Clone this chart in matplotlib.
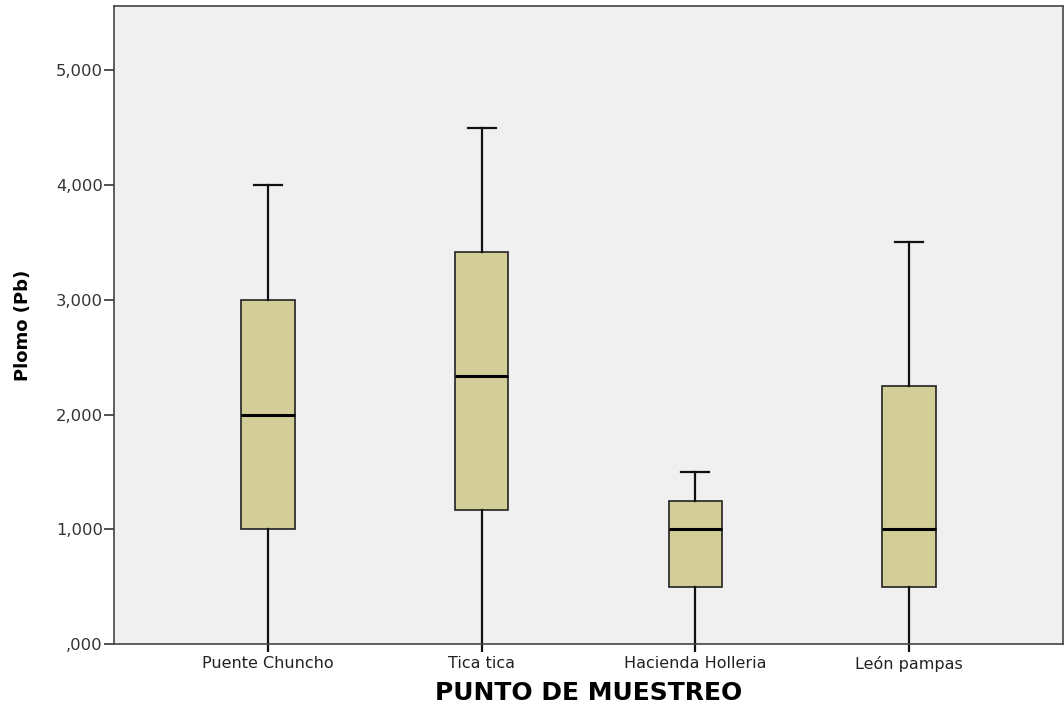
import matplotlib
matplotlib.use("Agg")
import matplotlib.pyplot as plt

plt.rcParams["font.family"] = ["DejaVu Sans"]

# ── data ─────────────────────────────────────────────────────────────
sites = ["Puente Chuncho", "Tica tica", "Hacienda Holleria", "León pampas"]
whislo = [0, 0, 0, 0]
q1 = [1000, 1167, 500, 500]
med = [2000, 2333, 1000, 1000]
q3 = [3000, 3417, 1250, 2250]
whishi = [4000, 4500, 1500, 3500]
yticks = [0, 1000, 2000, 3000, 4000, 5000]
ytick_labels = [",000", "1,000", "2,000", "3,000", "4,000", "5,000"]

stats = []
for name, lo, a, m, b, hi in zip(sites, whislo, q1, med, q3, whishi):
    stats.append({"label": name, "whislo": lo, "q1": a, "med": m, "q3": b,
                  "whishi": hi, "fliers": []})

fig = plt.figure(figsize=(10.64, 7.10), dpi=100)
ax = fig.add_axes([114 / 1064, 66 / 710, 949 / 1064, 638 / 710])
ax.set_facecolor("#F0F0F0")

positions = [1, 2, 3, 4]
parts = ax.bxp(stats, positions=positions, widths=0.25, patch_artist=True,
               showfliers=False,
               boxprops=dict(facecolor="#D3CE98", edgecolor="#222222", linewidth=1.2),
               medianprops=dict(color="#000000", linewidth=2.2),
               whiskerprops=dict(color="#111111", linewidth=1.6),
               capprops=dict(color="#111111", linewidth=1.6),
               capwidths=0.13)
# lower caps sit on the zero line and are not drawn in the original
for cap in parts["caps"][0::2]:
    cap.set_visible(False)

ax.set_xlim(0.279, 4.721)
ax.set_ylim(0, 5560)
ax.set_yticks(yticks)
ax.set_yticklabels(ytick_labels, fontsize=11.8, color="#333333")
ax.set_xticks(positions)
ax.set_xticklabels(sites, fontsize=11.5, color="#222222")
ax.tick_params(axis="y", length=7, width=1.2, color="#333333", pad=1)
ax.tick_params(axis="x", length=6, width=1.6, color="#111111", pad=3)

for sp in ax.spines.values():
    sp.set_color("#444444")
    sp.set_linewidth(1.2)

ax.set_ylabel("Plomo (Pb)", fontsize=13, fontweight="bold", labelpad=17)
ax.set_xlabel("PUNTO DE MUESTREO", fontsize=18, fontweight="bold", labelpad=6)

fig.savefig("out.png", dpi=100, facecolor="white")
plt.close()
